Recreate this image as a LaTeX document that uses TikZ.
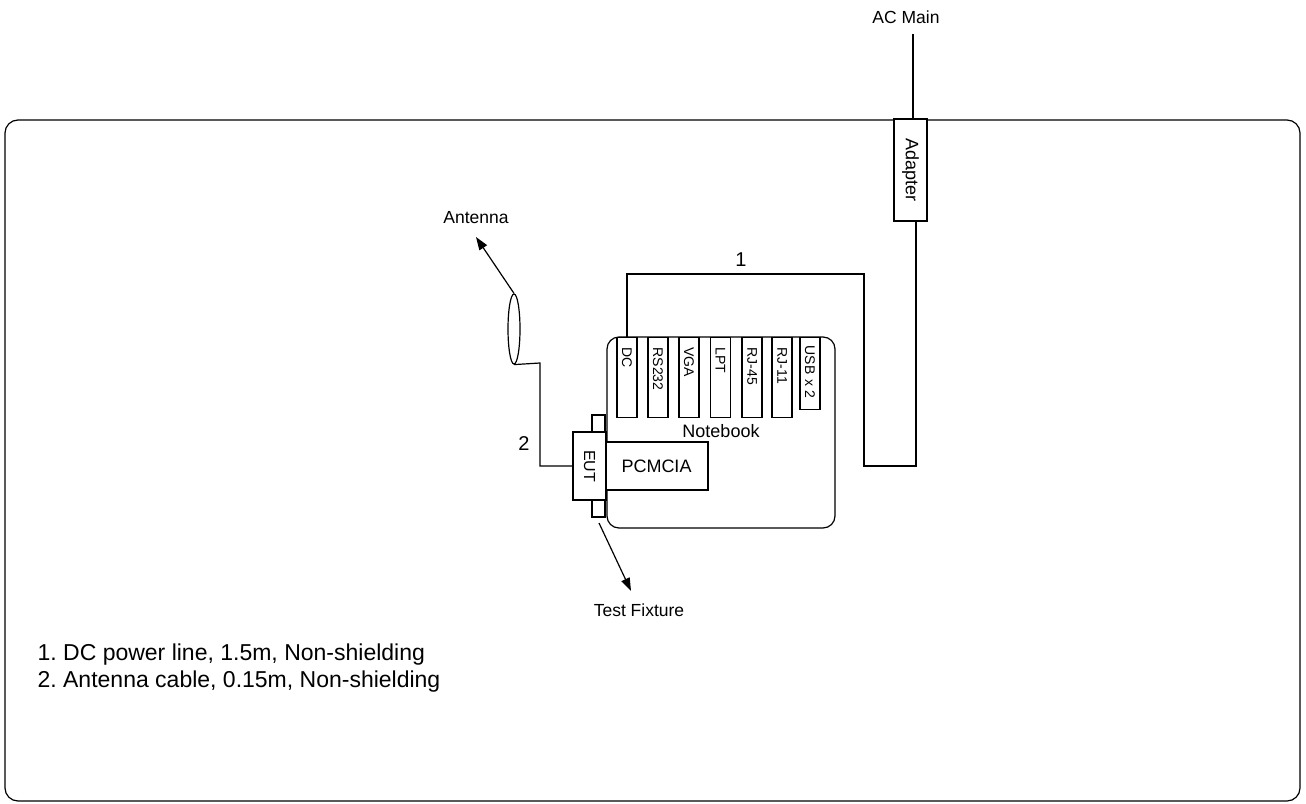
\documentclass[tikz,border=0pt]{standalone}
\usepackage{fontspec}
\setmainfont{Liberation Sans}
\usetikzlibrary{shapes, arrows.meta, positioning}

\begin{document}
\begin{tikzpicture}[
        x=1pt, y=-1pt,
        line width=1.2pt,
        box/.style={
          rectangle,
          draw,
          fill=white,
          inner sep=0pt
        },
        port/.style={
          box,
          rotate=-90,
          anchor=west,
          minimum width=80pt,
          minimum height=20pt,
          text width=60pt,
          align=left,
          font=\fontsize{14}{16}\selectfont
        },
        tab/.style={
          box,
          minimum width=13pt,
          minimum height=17pt
        },
        plain/.style={
          inner sep=0pt,
          font=\fontsize{17.5}{20}\selectfont
        },
        line/.style={-{Triangle[length=13pt, width=9pt]}}
    ]
    \useasboundingbox (0,0) rectangle (1306,803);

    % Outer frame
    \draw[rounded corners=13pt] (5,120) rectangle (1300,801);

    % Define the nodes
    \node[plain] (acmain) at (906,17) {AC Main};
    \node[box, rotate=-90, minimum width=102pt, minimum height=33pt,
          font=\fontsize{18}{20}\selectfont] (adapter) at (910.5,170) {Adapter};

    \node[box, rounded corners=12pt, minimum width=228pt, minimum height=191pt]
          (notebook) at (721,432.5) {};
    \node[plain, font=\fontsize{18}{20}\selectfont] (nbtext) at (721,431) {Notebook};

    \node[port] (dc) at (627,337) {DC};
    \node[port] (rs232) at (658,337) {RS232};
    \node[port] (vga) at (689,337) {VGA};
    \node[port] (lpt) at (720.5,337) {LPT};
    \node[port] (rj45) at (752,337) {RJ-45};
    \node[port] (rj11) at (782,337) {RJ-11};
    \node[port, minimum width=72pt, text width=56pt] (usb) at (810,337) {USB x 2};

    \node[box, minimum width=103pt, minimum height=48pt,
          font=\fontsize{18}{20}\selectfont] (pcmcia) at (656.5,466) {PCMCIA};
    \node[tab] (tabtop) at (598.5,423.5) {};
    \node[tab] (tabbot) at (598.5,508.5) {};
    \node[box, rotate=-90, minimum width=68pt, minimum height=33pt,
          font=\fontsize{16}{18}\selectfont] (eut) at (589.5,466) {EUT};

    \node[draw, ellipse, minimum width=12pt, minimum height=70pt, inner sep=0pt]
          (coil) at (514,329) {};
    \node[plain] (antenna) at (476,218) {Antenna};
    \node[plain] (fixture) at (639,610) {Test Fixture};

    \node[plain, font=\fontsize{20}{22}\selectfont] (one) at (741,260) {1};
    \node[plain, font=\fontsize{20}{22}\selectfont] (two) at (524,444) {2};

    \node[plain, font=\fontsize{23}{27}\selectfont, anchor=base west, align=left]
          (legend) at (37,687) {1.\ DC power line, 1.5m, Non-shielding\\
                                2.\ Antenna cable, 0.15m, Non-shielding};

    % Cable corners
    \coordinate (acend) at (913,34);
    \coordinate (dcturn) at (864,466);
    \coordinate (dctop) at (627,274);
    \coordinate (antturn) at (540,363);
    \coordinate (anttip) at (476,237);
    \coordinate (fixstart) at (599,523);
    \coordinate (fixtip) at (631,591);

    % Connect the nodes
    \draw (acend) -- (acend |- adapter.west);
    \draw ([xshift=5.5pt]adapter.east) |- (dcturn) |- (dctop) -- (dc.west);
    \draw (eut.south) -| (antturn) -- (coil.south);
    \draw[line] (coil.north) -- (anttip);
    \draw[line] (fixstart) -- (fixtip);

\end{tikzpicture}
\end{document}
